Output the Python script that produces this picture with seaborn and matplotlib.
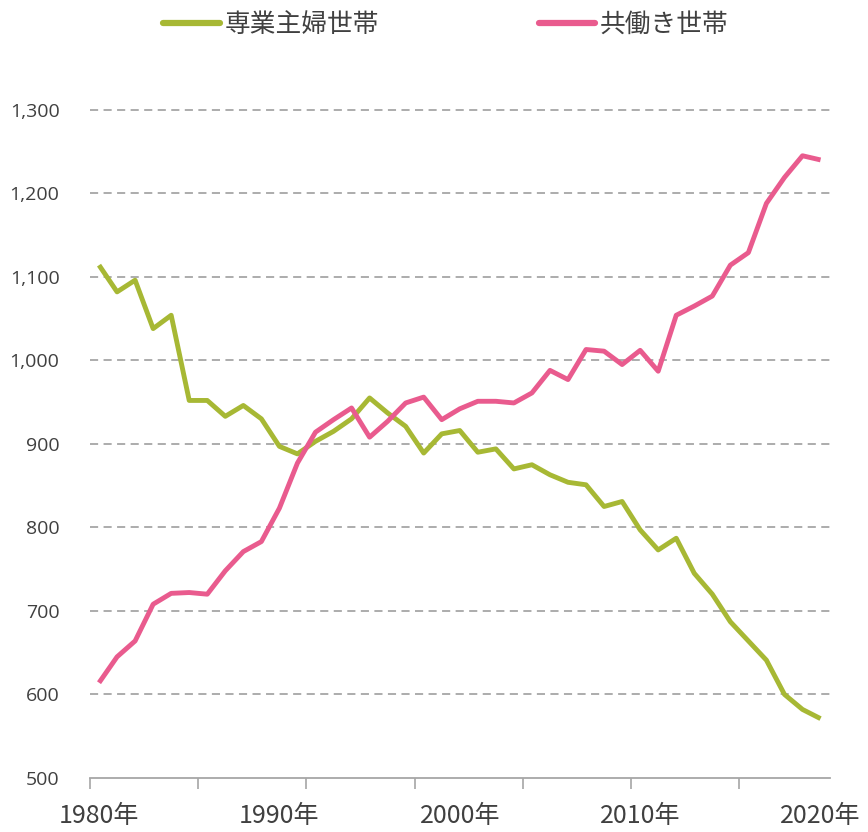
import numpy as np
import pandas as pd
import seaborn as sns
import matplotlib.pyplot as plt
from matplotlib.ticker import FixedLocator, FuncFormatter

# 専業主婦世帯 / 共働き世帯 (万世帯)
years = list(range(1980, 2021))
sengyo = [1114, 1082, 1096, 1038, 1054, 952, 952, 933, 946, 930,
          897, 888, 903, 915, 930, 955, 937, 921, 889, 912,
          916, 890, 894, 870, 875, 863, 854, 851, 825, 831,
          797, 773, 787, 745, 720, 687, 664, 641, 600, 582, 571]
tomobataraki = [614, 645, 664, 708, 721, 722, 720, 748, 771, 783,
                823, 877, 914, 929, 943, 908, 927, 949, 956, 929,
                942, 951, 951, 949, 961, 988, 977, 1013, 1011, 995,
                1012, 987, 1054, 1065, 1077, 1114, 1129, 1188, 1219, 1245, 1240]
series_names = ['専業主婦世帯', '共働き世帯']
colors = ['#A7B834', '#E95B8E']
x_labels = ['1980年', '1990年', '2000年', '2010年', '2020年']
y_ticks = [500, 600, 700, 800, 900, 1000, 1100, 1200, 1300]

df = pd.DataFrame({
    'year': years * 2,
    'value': sengyo + tomobataraki,
    'series': [series_names[0]] * len(years) + [series_names[1]] * len(years),
})

sns.set_theme(style='white')
plt.rcParams['font.family'] = ['Noto Sans CJK JP', 'DejaVu Sans']

fig = plt.figure(figsize=(8.68, 8.32), dpi=100)
ax = fig.add_axes([0.1037, 0.065, 0.852, 0.803])

text_color = '#404040'
grid_color = '#A6A6A6'

for v in y_ticks[1:]:
    ax.axhline(v, color=grid_color, lw=1.3, ls=(0, (4.5, 3)), zorder=0)

sns.lineplot(data=df, x='year', y='value', hue='series', hue_order=series_names,
             palette=colors, linewidth=3.5, ax=ax, legend=True)
for ln in ax.get_lines():
    ln.set_clip_on(False)
    ln.set_solid_capstyle('butt')

ax.set_xlim(1979.5, 2020.5)
ax.set_ylim(500, 1300)

ax.xaxis.set_major_locator(FixedLocator([1980, 1990, 2000, 2010, 2020]))
ax.set_xticklabels(x_labels)
ax.xaxis.set_minor_locator(FixedLocator([1979.5 + 6 * k for k in range(7)]))
ax.tick_params(axis='x', which='major', length=0, pad=18, labelsize=18, labelcolor=text_color)
ax.tick_params(axis='x', which='minor', length=8, width=1.2, color=grid_color, bottom=True)

ax.yaxis.set_major_locator(FixedLocator(y_ticks))
ax.yaxis.set_major_formatter(FuncFormatter(lambda v, p: f'{int(v):,}'))
ax.tick_params(axis='y', length=0, pad=22, labelsize=14, labelcolor=text_color)
for lab in ax.get_yticklabels():
    lab.set_fontfamily(['Open Sans', 'DejaVu Sans'])

ax.set_xlabel('')
ax.set_ylabel('')
for side in ['top', 'right', 'left']:
    ax.spines[side].set_visible(False)
ax.spines['bottom'].set_color(grid_color)
ax.spines['bottom'].set_linewidth(1.3)

handles, labels = ax.get_legend_handles_labels()
ax.get_legend().remove()
leg = fig.legend(handles, labels, loc='center', bbox_to_anchor=(446 / 868, 1 - 25 / 832),
                 ncol=2, frameon=False, fontsize=18.5, handlelength=2.2, handletextpad=0.2,
                 columnspacing=6.2)
for t in leg.get_texts():
    t.set_color(text_color)
for h in leg.get_lines():
    h.set_linewidth(4.5)
    h.set_solid_capstyle('round')

fig.savefig('out.png', dpi=100)
